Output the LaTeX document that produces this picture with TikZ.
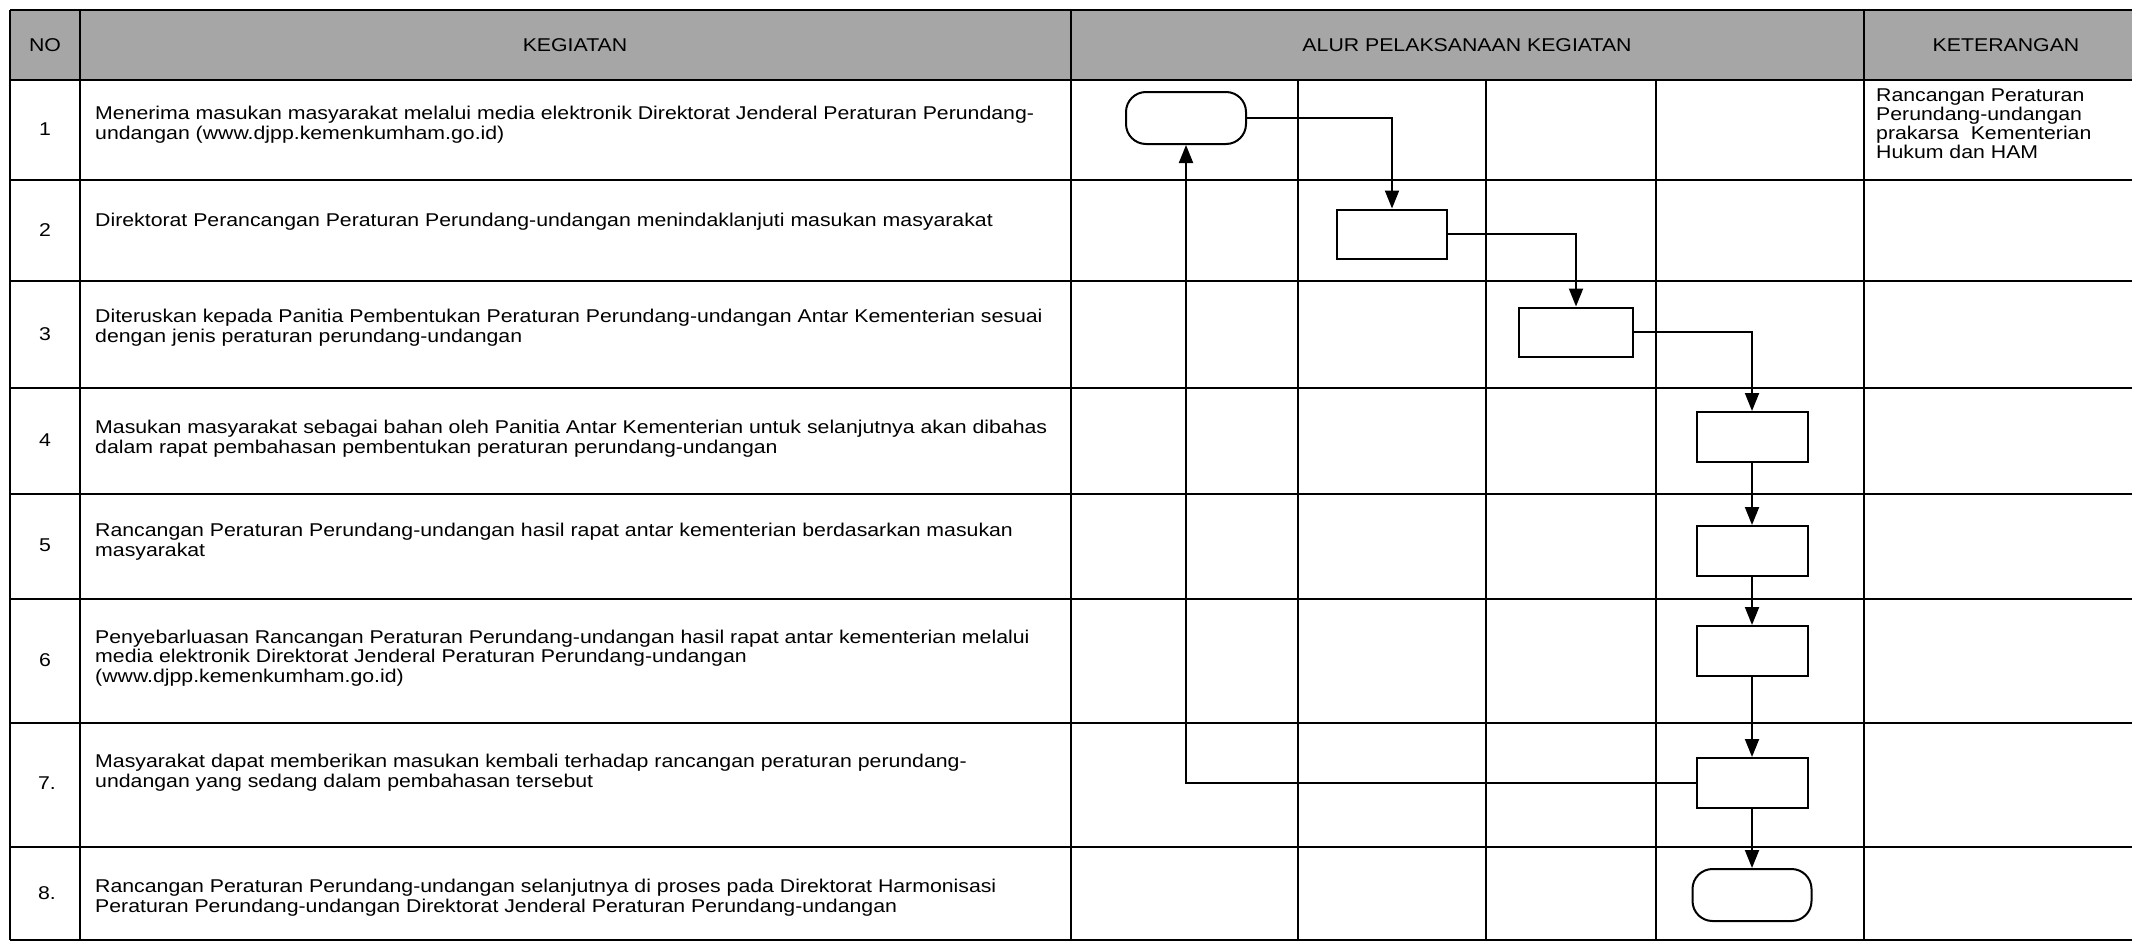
\documentclass[tikz,border=0pt]{standalone}
\usepackage{fontspec}
\setmainfont{Liberation Sans}[FakeStretch=1.15]
\usetikzlibrary{arrows.meta}
\definecolor{hdrgray}{RGB}{166,166,166}
\begin{document}
\begin{tikzpicture}[x=1pt,y=-1pt,
  gridline/.style={line width=2pt},
  procbox/.style={draw, line width=2pt, fill=white, minimum width=111pt, minimum height=50pt, inner sep=0pt},
  termbox/.style={draw, line width=2pt, fill=white, rounded corners=20pt, minimum width=120pt, minimum height=52pt, inner sep=0pt},
  flow/.style={line width=2pt, -{Triangle[length=18pt,width=14pt]}},
  txt/.style={font=\fontsize{18.5}{19.2}\selectfont, align=left, anchor=base west, inner sep=0pt},
  numtxt/.style={font=\fontsize{18.5}{19.2}\selectfont, anchor=center, inner sep=0pt},
  kettxt/.style={font=\fontsize{18.5}{18.8}\selectfont, align=left, anchor=base west, inner sep=0pt}
]
\useasboundingbox (0,0) rectangle (2132,942);
\clip (0,0) rectangle (2132,942);
% header fill
\fill[hdrgray] (10,10) rectangle (2150,80);
% horizontal lines
\foreach \yy in {10,80,180,281,388,494,599,723,847,940}
  \draw[gridline] (10,\yy) -- (2150,\yy);
% vertical lines
\foreach \xx in {10,80,1071,1864}
  \draw[gridline] (\xx,10) -- (\xx,940);
\foreach \xx in {1298,1486,1656}
  \draw[gridline] (\xx,80) -- (\xx,940);
% headers
\node[numtxt] (h1) at (45,45) {NO};
\node[numtxt] (h2) at (575,45) {KEGIATAN};
\node[numtxt] (h3) at (1467,45) {ALUR PELAKSANAAN KEGIATAN};
\node[numtxt] (h4) at (2006,45) {KETERANGAN};
% numbers
\node[numtxt] (n1) at (45,129) {1};
\node[numtxt] (n2) at (45,230) {2};
\node[numtxt] (n3) at (45,334) {3};
\node[numtxt] (n4) at (45,440) {4};
\node[numtxt] (n5) at (45,545) {5};
\node[numtxt] (n6) at (45,660) {6};
\node[numtxt] (n7) at (47,783) {7.};
\node[numtxt] (n8) at (47,893) {8.};
% activities (base = baseline of last line)
\node[txt] (k1) at (95,139) {Menerima masukan masyarakat melalui media elektronik Direktorat Jenderal Peraturan Perundang-\\undangan (www.djpp.kemenkumham.go.id)};
\node[txt] (k2) at (95,226) {Direktorat Perancangan Peraturan Perundang-undangan menindaklanjuti masukan masyarakat};
\node[txt] (k3) at (95,342) {Diteruskan kepada Panitia Pembentukan Peraturan Perundang-undangan Antar Kementerian sesuai\\dengan jenis peraturan perundang-undangan};
\node[txt] (k4) at (95,453) {Masukan masyarakat sebagai bahan oleh Panitia Antar Kementerian untuk selanjutnya akan dibahas\\dalam rapat pembahasan pembentukan peraturan perundang-undangan};
\node[txt] (k5) at (95,556) {Rancangan Peraturan Perundang-undangan hasil rapat antar kementerian berdasarkan masukan\\masyarakat};
\node[txt] (k6) at (95,682) {Penyebarluasan Rancangan Peraturan Perundang-undangan hasil rapat antar kementerian melalui\\media elektronik Direktorat Jenderal Peraturan Perundang-undangan\\(www.djpp.kemenkumham.go.id)};
\node[txt] (k7) at (95,787) {Masyarakat dapat memberikan masukan kembali terhadap rancangan peraturan perundang-\\undangan yang sedang dalam pembahasan tersebut};
\node[txt] (k8) at (95,912) {Rancangan Peraturan Perundang-undangan selanjutnya di proses pada Direktorat Harmonisasi\\Peraturan Perundang-undangan Direktorat Jenderal Peraturan Perundang-undangan};
% keterangan
\node[kettxt] (ket1) at (1876,158) {Rancangan Peraturan\\Perundang-undangan\\prakarsa\ \ Kementerian\\Hukum dan HAM};
% flow shapes
\node[termbox] (t1) at (1186,118) {};
\node[procbox, minimum width=110pt, minimum height=49pt] (b2) at (1392,234) {};
\node[procbox, minimum width=114pt, minimum height=49pt] (b3) at (1576,332) {};
\node[procbox] (b4) at (1752,437) {};
\node[procbox] (b5) at (1752,551) {};
\node[procbox] (b6) at (1752,651) {};
\node[procbox] (b7) at (1752,783) {};
\node[termbox, minimum width=119pt] (t2) at (1752,895) {};
% connectors
\draw[flow] (t1.east) -| (b2.north);
\draw[flow] (b2.east) -| (b3.north);
\draw[flow] (b3.east) -| (b4.north);
\draw[flow] (b4.south) -- (b5.north);
\draw[flow] (b5.south) -- (b6.north);
\draw[flow] (b6.south) -- (b7.north);
\draw[flow] (b7.south) -- (t2.north);
\draw[flow] (b7.west) -| (t1.south);
\end{tikzpicture}
\end{document}
